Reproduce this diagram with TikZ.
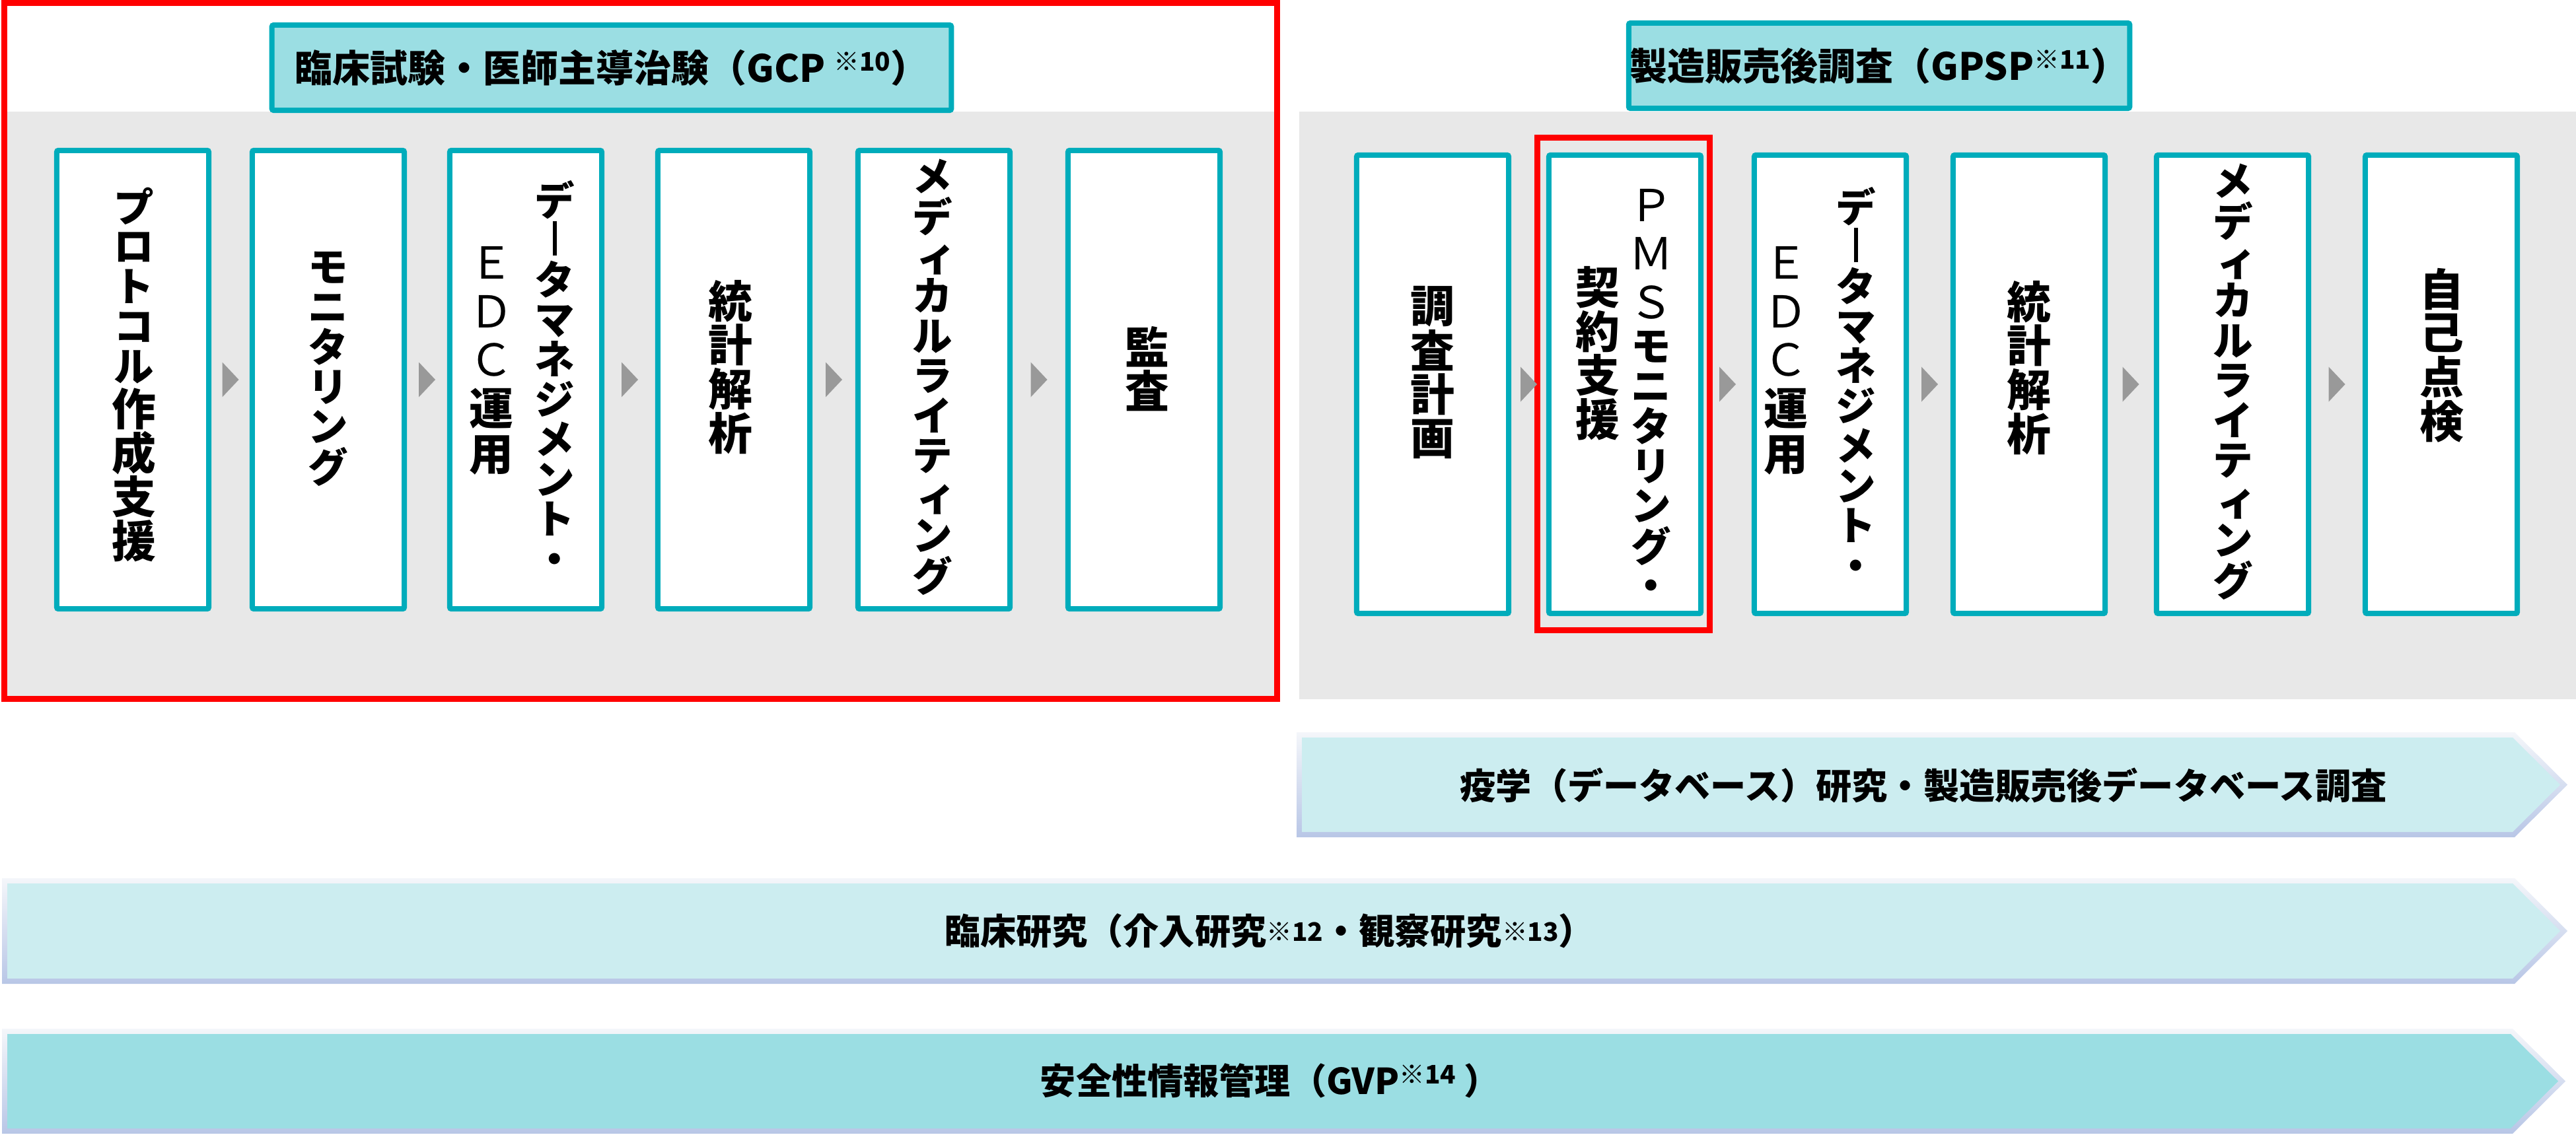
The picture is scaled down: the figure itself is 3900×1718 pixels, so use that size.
\documentclass[tikz,border=0pt]{standalone}
\usepackage{fontspec}
\usepackage{graphicx}
\setmainfont{Noto Sans CJK JP}
\usetikzlibrary{calc}
\definecolor{tealline}{RGB}{0,172,187}
\definecolor{titlefill}{RGB}{155,222,227}
\definecolor{bggray}{RGB}{232,232,232}
\definecolor{arrowgray}{RGB}{153,153,153}
\definecolor{framered}{RGB}{255,0,0}
\definecolor{barlight}{RGB}{204,237,240}
\definecolor{bardark}{RGB}{155,222,227}
\definecolor{bartop}{RGB}{244,246,250}
\definecolor{barbot}{RGB}{184,198,230}
\newcommand\jcell[2]{\hbox to 26pt{\hss\vbox to #1{\vss\hbox{\vphantom{国}#2}\vss}\hss}}
\newcommand\jk[1]{\jcell{1em}{#1}}
\newcommand\ja[1]{{\fontsize{17.2pt}{17.2pt}\selectfont\jcell{1em}{#1}}}
\newcommand\jl[1]{\jcell{1.1em}{\mdseries #1}}
\newcommand\jbar{\ja{\raisebox{-0.03em}{\rule{0.1em}{0.86em}}}}
\newcommand\jsmall[1]{\ja{\kern0.2em #1}}
\newcommand\jcol[1]{\vbox{\offinterlineskip #1}}
\newcommand\sups[1]{\raisebox{0.3em}{\fontsize{11pt}{11pt}\selectfont #1}}
\newcommand\supm[1]{\raisebox{0.1em}{\fontsize{11pt}{11pt}\selectfont #1}}
\newcommand\flowtri[2]{\fill[arrowgray] ($(#1.east)!0.5!(#2.west)$) +(-12.5,-26.5) -- +(12.5,0) -- +(-12.5,26.5) -- cycle;}
\begin{document}
\begin{tikzpicture}[x=0.01cm,y=-0.01cm,
 stepbox/.style={draw=tealline,line width=0.08cm,fill=white,rounded corners=0.025cm,minimum width=2.30cm,minimum height=6.94cm,inner sep=0pt},
 titlebox/.style={draw=tealline,line width=0.08cm,fill=titlefill,rounded corners=0.025cm,minimum height=1.29cm,inner sep=0pt,font=\fontsize{16.2pt}{18pt}\selectfont\bfseries},
 vtext/.style={inner sep=0pt,font=\fontsize{19pt}{19pt}\selectfont\bfseries},
 bartext/.style={inner sep=0pt,font=\fontsize{15.4pt}{18pt}\selectfont\bfseries},
 redframe/.style={draw=framered,line width=0.09cm}
]
\useasboundingbox (0,0) rectangle (3900,1718);
% panels
\fill[bggray] (2,169) rectangle (1938,1063);
\fill[bggray] (1967,169) rectangle (3900,1059);
\draw[redframe] (6.5,4.5) rectangle (1933.5,1058.5);
% titles
\node[titlebox,minimum width=10.28cm] (T1) at (926,102.5) {臨床試験・医師主導治験（GCP \sups{※10}）};
\node[titlebox,minimum width=7.58cm] (T2) at (2845,99.5) {製造販売後調査（GPSP\sups{※11}）};
% left boxes
\node[stepbox] (L1) at (201,575) {};
\node[stepbox] (L2) at (497,575) {};
\node[stepbox] (L3) at (796,575) {};
\node[stepbox] (L4) at (1111,575) {};
\node[stepbox] (L5) at (1414,575) {};
\node[stepbox] (L6) at (1732,575) {};
% right boxes
\node[stepbox] (R1) at (2169,582) {};
\node[stepbox] (R2) at (2460,582) {};
\node[stepbox] (R3) at (2771,582) {};
\node[stepbox] (R4) at (3072,582) {};
\node[stepbox] (R5) at (3380,582) {};
\node[stepbox] (R6) at (3696,582) {};
\draw[redframe] (2327.5,208.5) rectangle (2588,954.5);
% flow triangles
\flowtri{L1}{L2}\flowtri{L2}{L3}\flowtri{L3}{L4}\flowtri{L4}{L5}\flowtri{L5}{L6}
\flowtri{R1}{R2}\flowtri{R2}{R3}\flowtri{R3}{R4}\flowtri{R4}{R5}\flowtri{R5}{R6}
% vertical texts left
\node[vtext] (L1t) at (203,568) {\jcol{\ja{プ}\ja{ロ}\ja{ト}\ja{コ}\ja{ル}\jk{作}\jk{成}\jk{支}\jk{援}}};
\node[vtext] (L2t) at (497,556) {\jcol{\ja{モ}\ja{ニ}\ja{タ}\ja{リ}\ja{ン}\ja{グ}}};
\node[vtext] (L3a) at (840,575) {\jcol{\ja{デ}\jbar\ja{タ}\ja{マ}\ja{ネ}\ja{ジ}\ja{メ}\ja{ン}\ja{ト}\ja{・}}};
\node[vtext] (L3b) at (744,542) {\jcol{\jl{Ｅ}\jl{Ｄ}\jl{Ｃ}\jl{\bfseries 運}\jk{用}}};
\node[vtext] (L4t) at (1106,556) {\jcol{\jk{統}\jk{計}\jk{解}\jk{析}}};
\node[vtext] (L5t) at (1412,570) {\jcol{\ja{メ}\ja{デ}\jsmall{ィ}\ja{カ}\ja{ル}\ja{ラ}\ja{イ}\ja{テ}\jsmall{ィ}\ja{ン}\ja{グ}}};
\node[vtext] (L6t) at (1737,559) {\jcol{\jk{監}\jk{査}}};
% vertical texts right
\node[vtext] (R1t) at (2169,564) {\jcol{\jk{調}\jk{査}\jk{計}\jk{画}}};
\node[vtext] (R2a) at (2500,596) {\jcol{\jl{Ｐ}\jl{Ｍ}\jl{Ｓ}\ja{モ}\ja{ニ}\ja{タ}\ja{リ}\ja{ン}\ja{グ}\ja{・}}};
\node[vtext] (R2b) at (2419,535) {\jcol{\jk{契}\jk{約}\jk{支}\jk{援}}};
\node[vtext] (R3a) at (2810,585) {\jcol{\ja{デ}\jbar\ja{タ}\ja{マ}\ja{ネ}\ja{ジ}\ja{メ}\ja{ン}\ja{ト}\ja{・}}};
\node[vtext] (R3b) at (2704,542) {\jcol{\jl{Ｅ}\jl{Ｄ}\jl{Ｃ}\jl{\bfseries 運}\jk{用}}};
\node[vtext] (R4t) at (3072,557) {\jcol{\jk{統}\jk{計}\jk{解}\jk{析}}};
\node[vtext] (R5t) at (3381,577) {\jcol{\ja{メ}\ja{デ}\jsmall{ィ}\ja{カ}\ja{ル}\ja{ラ}\ja{イ}\ja{テ}\jsmall{ィ}\ja{ン}\ja{グ}}};
\node[vtext] (R6t) at (3697,538) {\jcol{\jk{自}\jk{己}\jk{点}\jk{検}}};
% bars
\shade[top color=bartop,bottom color=barbot] (1963,1109) -- (3807,1109) -- (3887,1188.5) -- (3807,1268) -- (1963,1268) -- cycle;
\fill[barlight] (1971,1117) -- (3804,1117) -- (3876,1188.5) -- (3804,1260) -- (1971,1260) -- cycle;
\shade[top color=bartop,bottom color=barbot] (3,1330) -- (3807,1330) -- (3887,1410) -- (3807,1490) -- (3,1490) -- cycle;
\fill[barlight] (11,1338) -- (3804,1338) -- (3876,1410) -- (3804,1482) -- (11,1482) -- cycle;
\shade[top color=bartop,bottom color=barbot] (3,1558) -- (3804,1558) -- (3884,1637.5) -- (3804,1717) -- (3,1717) -- cycle;
\fill[bardark] (11,1566) -- (3801,1566) -- (3873,1637.5) -- (3801,1709) -- (11,1709) -- cycle;
\node[bartext] (B1t) at (2912,1190) {疫学（データベース）研究・製造販売後データベース調査};
\node[bartext] (B2t) at (1922,1410) {臨床研究（介入研究\supm{※12}・観察研究\supm{※13}）};
\node[bartext] (B3t) at (1923,1637) {安全性情報管理（GVP\sups{※14}\ ）};
\end{tikzpicture}
\end{document}
